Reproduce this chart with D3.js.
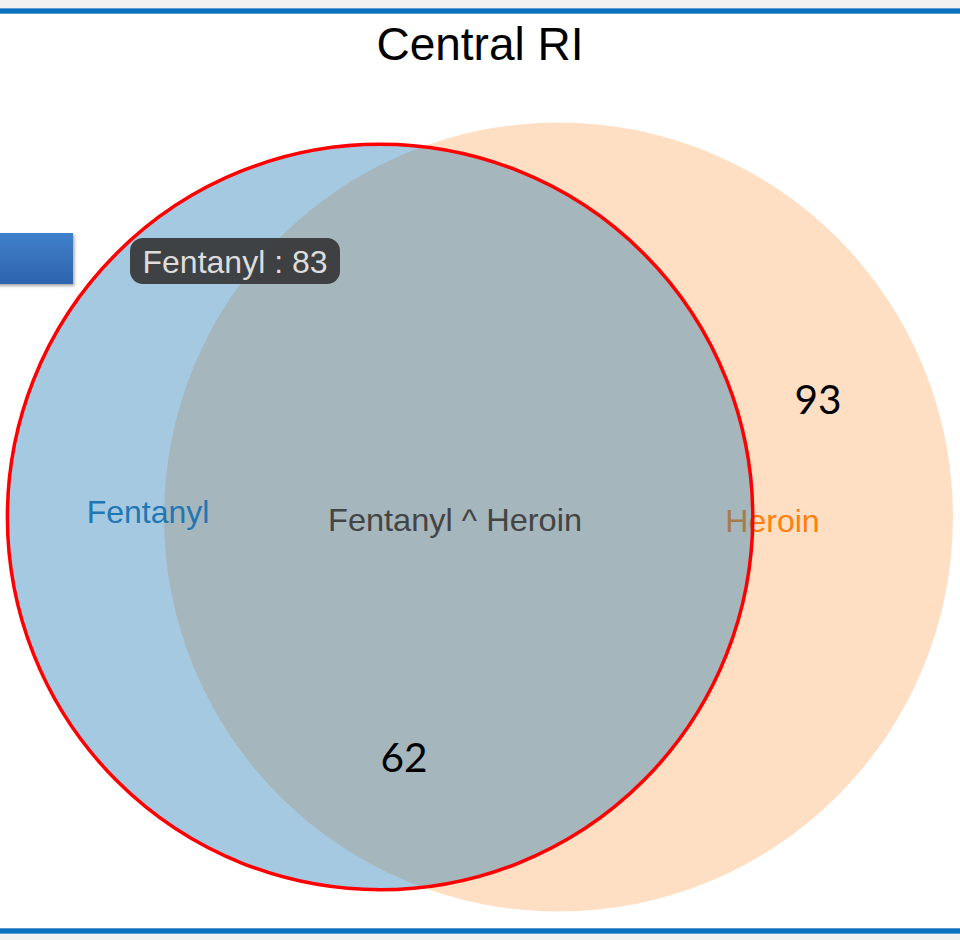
<!DOCTYPE html>
<html>
<head>
<meta charset="utf-8">
<script src="https://cdn.jsdelivr.net/npm/d3@7"></script>
<style>
  html, body { margin: 0; padding: 0; background: #ffffff; }
  svg { display: block; }
</style>
</head>
<body>
<svg id="chart" width="960" height="940"></svg>
<script>
// ---- data ----
const chartTitle = "Central RI";
const setNames = ["Fentanyl", "Heroin"];
const setSizes = [83, 93];
const setColors = ["#1f77b4", "#ff7f0e"];
const overlapLabel = "Fentanyl ^ Heroin";
const overlapSize = 62;
const annotationTexts = ["93", "62"];

(function () {
// ---- layout (venn-style: circle area = set size, overlap area = intersection size) ----
const radii = setSizes.map(s => Math.sqrt(s / Math.PI));
function overlapArea(r1, r2, d) {
  if (d >= r1 + r2) return 0;
  if (d <= Math.abs(r1 - r2)) return Math.PI * Math.min(r1, r2) ** 2;
  const a1 = r1 * r1 * Math.acos((d * d + r1 * r1 - r2 * r2) / (2 * d * r1));
  const a2 = r2 * r2 * Math.acos((d * d + r2 * r2 - r1 * r1) / (2 * d * r2));
  const t = 0.5 * Math.sqrt((-d + r1 + r2) * (d + r1 - r2) * (d - r1 + r2) * (d + r1 + r2));
  return a1 + a2 - t;
}
let lo = Math.abs(radii[0] - radii[1]), hi = radii[0] + radii[1];
for (let i = 0; i < 100; i++) {
  const mid = (lo + hi) / 2;
  if (overlapArea(radii[0], radii[1], mid) > overlapSize) lo = mid; else hi = mid;
}
const dist = (lo + hi) / 2;
const circles = setNames.map((name, i) => ({
  name, size: setSizes[i], color: setColors[i], r: radii[i], x: i === 0 ? 0 : dist, y: 0
}));

const svg = d3.select("#chart");

// scales: uniform unit->pixel factor
const plotTop = 122.5, plotBottom = 911.5;
const yScale = d3.scaleLinear().domain([-radii[1], radii[1]]).range([plotTop, plotBottom]);
const k = (plotBottom - plotTop) / (2 * radii[1]);
const rightEdge = 953;
const xScale = d3.scaleLinear()
  .domain([-radii[0], dist + radii[1]])
  .range([rightEdge - k * (dist + radii[0] + radii[1]), rightEdge]);

// ---- frame bands ----
svg.append("rect").attr("x", 0).attr("y", 0).attr("width", 960).attr("height", 9).attr("fill", "#f1f1f1");
svg.append("rect").attr("x", 0).attr("y", 8).attr("width", 960).attr("height", 6).attr("fill", "#5b9bd5");
svg.append("rect").attr("x", 0).attr("y", 9).attr("width", 960).attr("height", 4).attr("fill", "#0a70c0");
svg.append("rect").attr("x", 0).attr("y", 934).attr("width", 960).attr("height", 6).attr("fill", "#f1f1f1");
svg.append("rect").attr("x", 0).attr("y", 928).attr("width", 960).attr("height", 6).attr("fill", "#5b9bd5");
svg.append("rect").attr("x", 0).attr("y", 929).attr("width", 960).attr("height", 4).attr("fill", "#0a70c0");

// ---- title ----
svg.append("text")
  .attr("x", 480).attr("y", 60)
  .attr("text-anchor", "middle")
  .attr("font-family", "'Liberation Sans', Arial, Helvetica, sans-serif")
  .attr("font-size", 46)
  .attr("fill", "#000")
  .text(chartTitle);

// ---- venn areas: Heroin first, hovered Fentanyl on top ----
const order = [1, 0];
const areaGroups = svg.append("g").attr("class", "venn");
const labelPos = {
  "Fentanyl": [148, 523],
  "Heroin": [772.5, 532]
};
order.forEach(i => {
  const c = circles[i];
  const g = areaGroups.append("g");
  g.append("circle")
    .attr("cx", xScale(c.x))
    .attr("cy", yScale(c.y))
    .attr("r", c.r * k)
    .attr("fill", c.color)
    .attr("fill-opacity", i === 0 ? 0.4 : 0.25)
    .attr("stroke", i === 0 ? "#ff0000" : "none")
    .attr("stroke-width", i === 0 ? 3.5 : 0);
  g.append("text")
    .attr("x", labelPos[c.name][0])
    .attr("y", labelPos[c.name][1])
    .attr("text-anchor", "middle")
    .attr("font-family", "'Liberation Sans', Arial, Helvetica, sans-serif")
    .attr("font-size", 32)
    .attr("fill", c.color)
    .text(c.name);
});
// intersection label group on top
areaGroups.append("text")
  .attr("x", 455).attr("y", 531)
  .attr("text-anchor", "middle")
  .attr("font-family", "'Liberation Sans', Arial, Helvetica, sans-serif")
  .attr("font-size", 32)
  .attr("textLength", 254)
  .attr("lengthAdjust", "spacingAndGlyphs")
  .attr("fill", "#444")
  .text(overlapLabel);

// ---- annotation numbers ----
const annPos = [[818, 414], [404, 772]];
annotationTexts.forEach((t, i) => {
  svg.append("text")
    .attr("x", annPos[i][0]).attr("y", annPos[i][1])
    .attr("text-anchor", "middle")
    .attr("font-family", "Lato, 'Open Sans', sans-serif")
    .attr("font-size", 41)
    .attr("textLength", 47)
    .attr("lengthAdjust", "spacingAndGlyphs")
    .attr("fill", "#000")
    .text(t);
});

// ---- left blue button-like shape ----
const defs = svg.append("defs");
const grad = defs.append("linearGradient").attr("id", "btnGrad").attr("x1", 0).attr("y1", 0).attr("x2", 0).attr("y2", 1);
grad.append("stop").attr("offset", "0%").attr("stop-color", "#4180cb");
grad.append("stop").attr("offset", "100%").attr("stop-color", "#2d63ad");
const shadow = defs.append("filter").attr("id", "btnShadow").attr("x", "-20%").attr("y", "-20%").attr("width", "150%").attr("height", "150%");
shadow.append("feDropShadow").attr("dx", 1.5).attr("dy", 2).attr("stdDeviation", 1.5).attr("flood-color", "#000").attr("flood-opacity", 0.35);
svg.append("rect")
  .attr("x", -5).attr("y", 233).attr("width", 78).attr("height", 51)
  .attr("fill", "url(#btnGrad)")
  .attr("filter", "url(#btnShadow)");

// ---- tooltip ----
const tipText = setNames[0] + " : " + setSizes[0];
svg.append("rect")
  .attr("x", 130).attr("y", 238).attr("width", 210).attr("height", 46)
  .attr("rx", 13).attr("ry", 13)
  .attr("fill", "#333").attr("fill-opacity", 0.9);
svg.append("text")
  .attr("x", 235).attr("y", 273)
  .attr("text-anchor", "middle")
  .attr("font-family", "'Liberation Sans', Arial, Helvetica, sans-serif")
  .attr("font-size", 32)
  .attr("fill", "#dddddd")
  .text(tipText);
})();
</script>
</body>
</html>
